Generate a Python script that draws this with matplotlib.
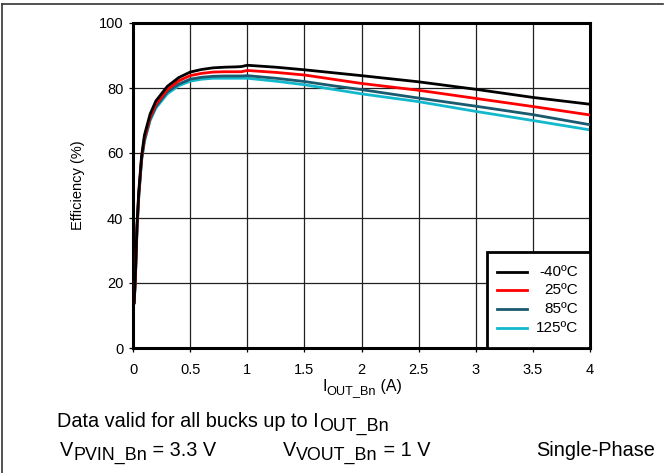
import matplotlib
matplotlib.use("Agg")
import matplotlib.pyplot as plt
from matplotlib.lines import Line2D
from matplotlib.patches import Rectangle

plt.rcParams["font.family"] = ["Liberation Sans", "DejaVu Sans"]

W, H = 664, 473

# load current (A)
i_out = [0.01, 0.02, 0.035, 0.05, 0.075, 0.1, 0.15, 0.2, 0.3, 0.4, 0.5, 0.6,
         0.7, 0.8, 0.9, 0.95, 1.0, 1.25, 1.5, 1.75, 2.0, 2.5, 3.0, 3.5, 4.0]

# efficiency (%) per temperature
eff_m40 = [14, 22, 38, 48, 59, 65.5, 72, 76, 80.5, 83.2, 84.9, 85.7,
           86.2, 86.4, 86.5, 86.6, 87.0, 86.4, 85.6, 84.7, 83.8, 81.9, 79.6, 77.1, 75.0]
eff_25 = [14, 21, 37, 47, 58.5, 64.5, 71, 75, 79.5, 82.2, 83.8, 84.5,
          84.9, 85.0, 85.0, 85.0, 85.4, 84.8, 84.0, 82.7, 81.4, 79.3, 76.8, 74.3, 71.7]
eff_85 = [14, 20.5, 36.5, 46.5, 58, 64, 70.5, 74.3, 78.8, 81.2, 82.7, 83.3,
          83.6, 83.7, 83.7, 83.7, 83.8, 83.0, 82.0, 80.7, 79.5, 76.9, 74.4, 71.8, 68.7]
eff_125 = [13.7, 20, 36, 46, 57.5, 63.5, 70, 73.8, 78.2, 80.7, 82.1, 82.7,
           83.0, 83.0, 83.0, 83.0, 83.0, 82.1, 81.0, 79.6, 78.2, 75.8, 72.8, 70.0, 67.1]

labels = ["-40ºC", "25ºC", "85ºC", "125ºC"]
colors = ["#000000", "#ff0000", "#1a5a6e", "#13b8cc"]

fig = plt.figure(figsize=(W / 100, H / 100), dpi=100)
ax = fig.add_axes([133 / W, 1 - 348 / H, 457 / W, 325 / H])
renderer = fig.canvas.get_renderer()


def sub_text(x_px, y_px, parts, size, center=False, sub_scale=0.9):
    """Write text pieces; parts is a list of (string, is_subscript)."""
    arts = []
    x = x_px
    for s, is_sub in parts:
        fs = size * sub_scale if is_sub else size
        y = y_px + (size * 0.3 if is_sub else 0)
        t = fig.text(x / W, 1 - y / H, s, fontsize=fs, va="baseline")
        bb = t.get_window_extent(renderer)
        x = bb.x1
        arts.append(t)
    if center:
        shift = (x - x_px) / 2
        for t in arts:
            px, py = t.get_position()
            t.set_position((px - shift / W, py))


# black on top, cyan at the bottom
series = [eff_m40, eff_25, eff_85, eff_125]
for eff, col, z in zip(series, colors, [5, 4, 3, 2]):
    ax.plot(i_out, eff, color=col, lw=2, zorder=z)

ax.set_xlim(0, 4)
ax.set_ylim(0, 100)
ax.set_xticks([0, 0.5, 1, 1.5, 2, 2.5, 3, 3.5, 4])
ax.set_xticklabels(["0", "0.5", "1", "1.5", "2", "2.5", "3", "3.5", "4"])
ax.set_yticks([0, 20, 40, 60, 80, 100])
ax.grid(True, color="#202020", lw=0.9)
ax.tick_params(labelsize=10.5, length=3, width=0.9, pad=4)
ax.tick_params(axis="x", pad=8)
for sp in ax.spines.values():
    sp.set_linewidth(2.2)

ax.set_ylabel("Efficiency (%)", fontsize=10.5, labelpad=10)
sub_text(362, 391, [("I", False), ("OUT_Bn", True), (" (A)", False)], 11.5,
         center=True, sub_scale=0.8)

# legend drawn by hand so the labels can be right-aligned
box = Rectangle((0.775, 0.0), 0.225, 0.295, transform=ax.transAxes,
                facecolor="white", edgecolor="black", lw=2, zorder=10,
                clip_on=False)
ax.add_patch(box)
entry_y = [0.233, 0.178, 0.120, 0.063]
for lab, col, yy in zip(labels, colors, entry_y):
    ax.add_line(Line2D([0.797, 0.862], [yy, yy], color=col, lw=2,
                       transform=ax.transAxes, zorder=11))
    ax.text(0.974, yy, lab, transform=ax.transAxes, ha="right", va="center",
            fontsize=11, zorder=11)

fs = 14.3
sub_text(57, 427, [("Data valid for all bucks up to I", False), ("OUT_Bn", True)], fs)
sub_text(60, 456, [("V", False), ("PVIN_Bn", True), (" = 3.3 V", False)], fs)
sub_text(283, 456, [("V", False), ("VOUT_Bn", True), (" = 1 V", False)], fs)
sub_text(536, 456, [("Single-Phase", False)], fs)

# outer frame (top and left edges)
fig.add_artist(Line2D([1.5 / W, 663 / W], [1 - 4 / H, 1 - 4 / H],
                      color="#333333", lw=1.2, transform=fig.transFigure))
fig.add_artist(Line2D([1.5 / W, 1.5 / W], [0, 1 - 4 / H],
                      color="#333333", lw=1.2, transform=fig.transFigure))

fig.savefig("out.png", dpi=100)
